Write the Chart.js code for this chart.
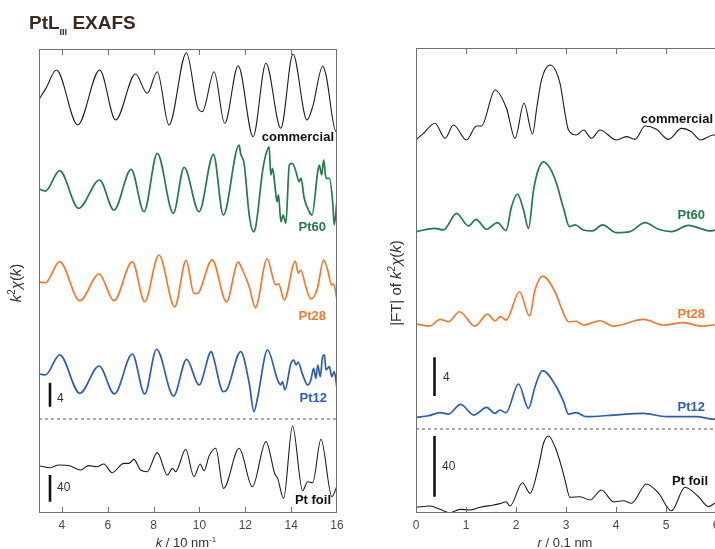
<!DOCTYPE html>
<html><head><meta charset="utf-8">
<script src="https://cdn.jsdelivr.net/npm/chart.js@4/dist/chart.umd.min.js"></script>
<style>
html,body{margin:0;padding:0;overflow:hidden;background:#fff;width:715px;height:549px;position:relative;}
#wrapL{position:absolute;left:0;top:0;width:360px;height:549px;}
#wrapR{position:absolute;left:380px;top:0;width:345px;height:549px;}
canvas{display:block;}
</style></head><body>
<div id="wrapL"><canvas id="cL" width="360" height="549"></canvas></div>
<div id="wrapR"><canvas id="cR" width="345" height="549"></canvas></div>
<script>
// ---------- tick labels ----------
const kTicks = [4, 6, 8, 10, 12, 14, 16];
const rTicks = [0, 1, 2, 3, 4, 5, 6];

// ---------- k-space: k^2 chi(k) (units of the "4" bar) ----------
const kCommercial = [3.03,3.3,3.76,4.69,5.65,6.34,7.21,7.72,8.16,8.67,9.43,9.91,10.13,10.64,11.10,11.69,12.34,12.90,13.55,14.08,14.69,14.94,15.38,15.52,15.96,16.0];
const chiCommercial = [-0.05,1.6,4.67,-4.5,4.67,-3.67,4.0,0.78,4.38,-4.5,7.55,-1.45,-2.28,4.38,-4.22,5.38,-6.45,5.78,-5.05,7.33,-3.67,-1.45,5.33,3.83,-5.62,-4.67];

const kPt60 = [3.03,3.28,3.90,4.73,5.64,6.27,7.02,7.58,8.16,8.86,9.33,9.98,10.61,11.04,11.73,11.80,11.88,11.95,12.17,12.36,12.46,12.75,12.89,13.04,13.11,13.19,13.29,13.38,13.45,13.55,13.65,13.77,13.92,14.06,14.21,14.35,14.43,14.57,14.79,14.91,15.16,15.23,15.33,15.42,15.52,15.67,15.81,15.88,15.99,16.0];
const chiPt60 = [0.12,-0.17,3.22,-3.05,1.67,-3.33,3.45,-3.62,6.12,-3.88,3.78,-3.62,5.95,-4.17,7.5,6.0,5.3,4.4,-4.17,-6.95,-6.0,3.05,5.83,7.2,2.5,3.6,0.83,-1.95,-0.8,-5.28,-4.2,-5.55,4.17,4.45,3.05,1.38,2.0,-1.38,-3.62,-4.17,3.05,4.17,2.5,5.0,1.95,1.95,-1.95,-5.83,-1.95,-1.5];

const kPt28 = [3.03,3.28,3.90,4.78,5.62,6.27,7.07,7.61,8.23,8.92,9.42,9.76,9.93,10.03,10.55,11.18,11.69,11.88,12.17,12.44,12.95,13.33,13.45,13.70,14.18,14.31,14.42,14.64,14.86,15.13,15.42,15.59,15.77,15.85,16.0];
const chiPt28 = [0,-0.12,3.38,-3.12,1.33,-3.12,3.38,-3.28,4.5,-4.12,3.6,-1.9,-1.9,-1.3,3.7,-3.3,3.3,2.0,-0.8,-4.3,3.83,-0.5,-0.3,-3.0,3.5,1.5,2.0,-0.8,-2.8,-1.3,3.67,2.0,-0.5,-0.3,-3.0];

const kPt12 = [3.03,3.28,3.90,4.78,5.62,6.29,7.07,7.61,8.13,8.87,9.44,9.98,10.45,10.52,10.60,11.04,11.20,11.80,12.17,12.38,12.53,12.97,13.41,13.55,13.62,13.73,13.99,14.11,14.22,14.30,14.50,14.72,14.86,14.98,15.08,15.16,15.27,15.37,15.45,15.52,15.67,15.77,15.88,16.0];
const chiPt12 = [0,-0.17,3.17,-3.22,1.33,-3.33,3.33,-3.33,4.12,-3.67,2.45,-1.83,3.5,3.72,2.9,-2.95,-2.6,3.72,-1.55,-6.28,-4.05,4.0,-1.0,-1.8,-1.3,-2.67,1.78,2.33,1.5,2.0,-0.1,-1.83,-1.0,0.95,-0.72,1.5,-0.45,2.88,3.17,0.67,1.22,-0.45,0.38,-2.38];

// Pt foil (units of the "40" bar)
const kFoil = [3.03,3.50,3.86,4.37,4.81,5.17,5.54,5.83,6.19,6.70,6.92,7.14,7.43,7.72,8.16,8.60,8.82,8.96,9.40,9.76,10.03,10.20,10.42,10.71,11.05,11.73,12.31,12.90,13.29,13.41,13.67,14.06,14.50,14.72,14.94,15.30,15.78,16.0];
const chiFoil = [0,-2.5,1.5,0,-6,0.5,-1,3,-10,4,4,10,-6,-8.5,20,-13.5,-3.5,-8.5,25,-16,3,-7,15,26.5,-33.5,26.5,-31,36.5,-12,-18.5,-48.5,60,-37,-23.5,-25,40,-46,-30];

// ---------- r-space: |FT| of k^2 chi(k) ----------
const rCommercial = [0.01,0.15,0.38,0.58,0.75,1.01,1.21,1.31,1.58,1.81,1.98,2.16,2.33,2.42,2.51,2.68,2.88,2.98,3.05,3.21,3.35,3.51,3.68,4.01,4.21,4.38,4.58,4.81,5.05,5.31,5.51,5.69,5.95,6.0];
const ftCommercial = [0.17,0.79,1.83,0.28,1.65,0.1,1.55,1.55,5.28,3.38,0.28,3.90,0.72,3.6,6.31,7.86,5.97,2.86,1.14,0.62,1.14,0.28,1.14,0.1,0.45,0.17,1.55,1.21,0.17,1.31,0.96,0.1,0.62,0.62];

const rPt60 = [0.01,0.38,0.55,0.81,1.05,1.2,1.41,1.63,1.8,1.91,2.03,2.15,2.25,2.35,2.45,2.55,2.68,2.81,2.95,3.07,3.18,3.35,3.53,3.73,4.01,4.28,4.58,4.85,5.11,5.45,5.68,5.88,6.0];
const ftPt60 = [0.14,0.48,0.31,2.03,0.72,1.41,0.38,1.07,0.24,2.7,4.03,2.4,0.48,4.4,6.6,7.36,6.7,5.12,2.55,0.65,0.83,0.31,0.21,0.83,0.03,0.14,1.07,0.38,0.14,0.79,0.48,0.21,0.31];

const rPt28 = [0.01,0.27,0.48,0.65,0.87,1.18,1.43,1.58,1.69,1.8,2.07,2.27,2.38,2.53,2.78,2.91,3.05,3.20,3.35,3.68,3.95,4.55,4.95,5.35,5.71,5.95,6.0];
const ftPt28 = [0.31,0.1,0.79,0.55,1.58,0.1,1.34,0.65,1.07,0.72,3.65,1.14,3.83,5.27,3.65,1.93,0.55,0.6,0.21,0.65,0.1,0.79,0.21,0.45,0.1,0.21,0.21];

const rPt12 = [0.01,0.25,0.48,0.65,0.89,1.16,1.41,1.58,1.68,1.8,2.05,2.25,2.38,2.53,2.81,2.95,3.05,3.20,3.41,3.95,4.55,5.01,5.61,5.95,6.0];
const ftPt12 = [0.38,0.55,0.86,0.72,1.72,0.62,1.41,0.79,1.14,0.86,3.83,1.31,3.55,5.21,3.52,2.0,0.72,0.86,0.45,0.62,0.79,0.45,0.45,0.2,0.2];

const rFoil = [0.01,0.28,0.48,0.68,0.88,1.08,1.28,1.55,1.71,1.80,1.88,2.13,2.28,2.45,2.55,2.65,2.78,2.91,2.98,3.08,3.28,3.48,3.71,3.95,4.15,4.31,4.61,4.85,5.11,5.38,5.65,5.85,5.98,6.0];
const ftFoil = [3.75,4.6,2.4,0.2,2.4,2.0,3.75,5.3,6.4,7.4,4.6,19.9,13.0,30.5,45.9,50.7,43.6,30.5,21.7,10.3,10.7,8.55,15.1,7.4,8.1,6.4,19.1,13.0,1.5,16.9,10.7,4.2,6.4,6.6];

// ---------- layout / style ----------
const FONT = "'Liberation Sans', Arial, Helvetica, sans-serif";
const C_BLACK = '#1c1c1c', C_GREEN = '#237a4a', C_ORANGE = '#f07a2e', C_BLUE = '#2d5db2';

function curve(xs, ys, off, color, width, axis) {
  return { data: xs.map((x, i) => ({ x: x, y: ys[i] + off })), borderColor: color, borderWidth: width,
    pointRadius: 0, cubicInterpolationMode: 'monotone', fill: false, yAxisID: axis };
}
function bar(x, y0, len, axis) {
  return { data: [{ x: x, y: y0 }, { x: x, y: y0 + len }], borderColor: '#111', borderWidth: 2.6,
    pointRadius: 0, fill: false, yAxisID: axis };
}
function dash(x0, x1, y, axis) {
  return { data: [{ x: x0, y: y }, { x: x1, y: y }], borderColor: '#555', borderWidth: 1,
    borderDash: [3, 3], pointRadius: 0, fill: false, yAxisID: axis };
}

function drawRich(ctx, parts, x, y, align) {
  let w = 0;
  parts.forEach(p => { ctx.font = p.font; w += ctx.measureText(p.t).width; });
  let cx = align === 'center' ? x - w / 2 : (align === 'right' ? x - w : x);
  ctx.textAlign = 'left';
  parts.forEach(p => {
    ctx.font = p.font; ctx.fillStyle = p.color || ctx.fillStyle;
    ctx.fillText(p.t, cx, y + (p.dy || 0));
    cx += ctx.measureText(p.t).width;
  });
}
const f = (s, b, i) => (i ? 'italic ' : '') + (b ? 'bold ' : '') + s + 'px ' + FONT;

const decoPlugin = {
  id: 'deco',
  afterDraw(chart, args, o) {
    const { ctx, chartArea: a } = chart;
    const x = chart.scales.x;
    ctx.save();
    // frame
    ctx.strokeStyle = '#6e6e6e'; ctx.lineWidth = 1;
    ctx.strokeRect(Math.round(a.left) + 0.5, Math.round(a.top) + 0.5, Math.round(a.right - a.left) - 1, Math.round(a.bottom - a.top) - 1);
    // inward tick marks
    o.tickMarks.forEach(v => {
      const px = Math.round(x.getPixelForValue(v)) + 0.5;
      ctx.beginPath();
      ctx.moveTo(px, a.bottom); ctx.lineTo(px, a.bottom - 6);
      ctx.moveTo(px, a.top); ctx.lineTo(px, a.top + 6);
      ctx.stroke();
    });
    ctx.textBaseline = 'middle';
    o.labels.forEach(l => {
      ctx.font = l.font; ctx.fillStyle = l.color; ctx.textAlign = l.align;
      ctx.fillText(l.t, l.x, l.y);
    });
    ctx.textBaseline = 'alphabetic';
    // x title
    ctx.fillStyle = '#333';
    drawRich(ctx, o.xTitle, o.xTitlePos[0], o.xTitlePos[1], 'center');
    // y title rotated
    ctx.save();
    ctx.translate(o.yTitlePos[0], o.yTitlePos[1]);
    ctx.rotate(-Math.PI / 2);
    ctx.fillStyle = '#333';
    drawRich(ctx, o.yTitle, 0, 0, 'center');
    ctx.restore();
    if (o.title) { drawRich(ctx, o.title, o.titlePos[0], o.titlePos[1], 'left'); }
    ctx.restore();
  }
};

function baseOptions(xMin, xMax, ticks, yMax, y2Max, pad, deco) {
  return {
    responsive: false, animation: false, devicePixelRatio: 1,
    layout: { padding: pad },
    plugins: { legend: { display: false }, tooltip: { enabled: false }, deco: deco },
    scales: {
      x: { type: 'linear', min: xMin, max: xMax,
        grid: { display: false, drawTicks: false }, border: { display: false },
        afterBuildTicks: s => { s.ticks = ticks.map(v => ({ value: v })); },
        afterFit: s => { s.height = 36; },
        ticks: { autoSkip: false, maxRotation: 0, padding: 5, color: '#4a4a4a', font: { family: FONT, size: 12 } } },
      y: { type: 'linear', display: false, min: 0, max: yMax },
      y2: { type: 'linear', display: false, min: 0, max: y2Max }
    }
  };
}

const yTitleK = [
  { t: 'k', font: f(15, false, true) }, { t: '2', font: f(10, false, false), dy: -6 },
  { t: 'χ', font: f(15, false, true) }, { t: '(', font: f(15, false, false) },
  { t: 'k', font: f(15, false, true) }, { t: ')', font: f(15, false, false) }];

// ---------- left chart: k space ----------
const leftOff = { commercial: 69.17, pt60: 53.83, pt28: 38.5, pt12: 23.17, foil: 70.4 };
new Chart(document.getElementById('cL'), {
  type: 'line',
  data: { datasets: [
    curve(kCommercial, chiCommercial, leftOff.commercial, C_BLACK, 1.1, 'y'),
    curve(kPt60, chiPt60, leftOff.pt60, C_GREEN, 1.7, 'y'),
    curve(kPt28, chiPt28, leftOff.pt28, C_ORANGE, 1.7, 'y'),
    curve(kPt12, chiPt12, leftOff.pt12, C_BLUE, 1.7, 'y'),
    curve(kFoil, chiFoil, leftOff.foil, C_BLACK, 1.1, 'y2'),
    dash(3, 16, 15.67, 'y'),
    bar(3.48, 17.7, 4, 'y'),
    bar(3.48, 16.9, 40, 'y2')
  ] },
  options: baseOptions(3, 16, kTicks, 464 / 6, 464 / 0.6675, { left: 39, right: 23, top: 49, bottom: 0 }, {
    tickMarks: [4, 6, 8, 10, 12, 14],
    labels: [
      { t: 'commercial', x: 334, y: 137, align: 'right', font: f(13, true), color: '#111' },
      { t: 'Pt60', x: 326, y: 227, align: 'right', font: f(13, true), color: C_GREEN },
      { t: 'Pt28', x: 326, y: 316, align: 'right', font: f(13, true), color: C_ORANGE },
      { t: 'Pt12', x: 327, y: 398, align: 'right', font: f(13, true), color: C_BLUE },
      { t: 'Pt foil', x: 331, y: 500, align: 'right', font: f(13, true), color: '#111' },
      { t: '4', x: 57, y: 399, align: 'left', font: f(12), color: '#333' },
      { t: '40', x: 57, y: 488, align: 'left', font: f(12), color: '#333' }
    ],
    xTitle: [{ t: 'k', font: f(13, false, true) }, { t: ' / 10 nm', font: f(13) }, { t: '-1', font: f(8), dy: -5 }],
    xTitlePos: [186, 547],
    yTitle: yTitleK, yTitlePos: [21, 283],
    title: [{ t: 'PtL', font: f(19, true), color: '#3b2a22' }, { t: 'III', font: f(9, true), dy: 6, color: '#3b2a22' },
            { t: ' EXAFS', font: f(19, true), color: '#3b2a22' }],
    titlePos: [29, 29]
  })
  ,
  plugins: [decoPlugin]
});

// ---------- right chart: r space ----------
const rightOff = { commercial: 38.47, pt60: 28.96, pt28: 19.23, pt12: 9.51, foil: 0 };
new Chart(document.getElementById('cR'), {
  type: 'line',
  data: { datasets: [
    curve(rCommercial, ftCommercial, rightOff.commercial, C_BLACK, 1.1, 'y'),
    curve(rPt60, ftPt60, rightOff.pt60, C_GREEN, 1.7, 'y'),
    curve(rPt28, ftPt28, rightOff.pt28, C_ORANGE, 1.7, 'y'),
    curve(rPt12, ftPt12, rightOff.pt12, C_BLUE, 1.7, 'y'),
    curve(rFoil, ftFoil, rightOff.foil, C_BLACK, 1.1, 'y2'),
    dash(0, 6, 8.69, 'y'),
    bar(0.37, 12.1, 4, 'y'),
    bar(0.37, 10.7, 40, 'y2')
  ] },
  options: baseOptions(0, 6, rTicks, 465 / 9.67, 465 / 1.52, { left: 36, right: 9, top: 48, bottom: 0 }, {
    tickMarks: [1, 2, 3, 4, 5],
    labels: [
      { t: 'commercial', x: 333, y: 119, align: 'right', font: f(13, true), color: '#111' },
      { t: 'Pt60', x: 325, y: 215, align: 'right', font: f(13, true), color: C_GREEN },
      { t: 'Pt28', x: 325, y: 314, align: 'right', font: f(13, true), color: C_ORANGE },
      { t: 'Pt12', x: 325, y: 407, align: 'right', font: f(13, true), color: C_BLUE },
      { t: 'Pt foil', x: 328, y: 481, align: 'right', font: f(13, true), color: '#111' },
      { t: '4', x: 63, y: 378, align: 'left', font: f(12), color: '#333' },
      { t: '40', x: 62, y: 467, align: 'left', font: f(12), color: '#333' }
    ],
    xTitle: [{ t: 'r', font: f(13, false, true) }, { t: ' / 0.1 nm', font: f(13) }],
    xTitlePos: [185, 547],
    yTitle: [{ t: '|FT| of ', font: f(15) }].concat(yTitleK), yTitlePos: [21, 283]
  }),
  plugins: [decoPlugin]
});
</script></body></html>
